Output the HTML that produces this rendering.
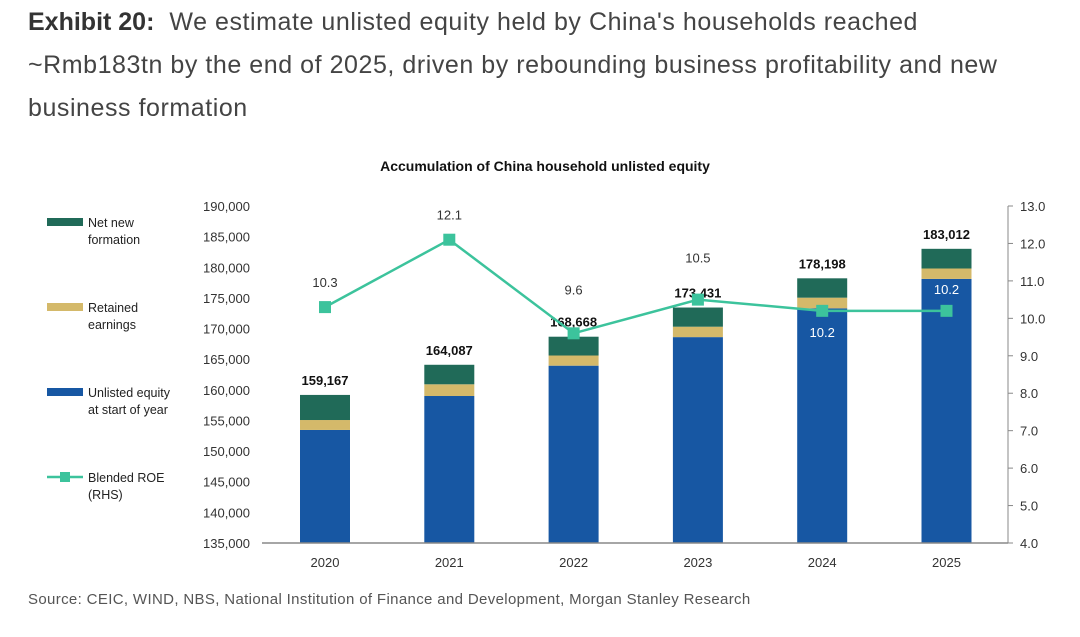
<!DOCTYPE html>
<html><head><meta charset="utf-8"><style>
body{margin:0;background:#fff;width:1080px;height:637px;overflow:hidden;font-family:"Liberation Sans",sans-serif}
#hdr{position:absolute;left:28px;top:1px;width:1050px;font-size:25px;line-height:43px;color:#444;letter-spacing:0.55px;white-space:nowrap}
#hdr b{color:#333;letter-spacing:0}
#src{position:absolute;left:28px;top:591px;font-size:15px;color:#555;letter-spacing:0.35px;white-space:nowrap}
</style></head><body>
<div id="hdr"><b>Exhibit 20:</b>&nbsp;&nbsp;We estimate unlisted equity held by China's households reached<br>~Rmb183tn by the end of 2025, driven by rebounding business profitability and new<br>business formation</div>
<svg id="chart" width="1080" height="637" style="position:absolute;left:0;top:0" font-family="Liberation Sans, sans-serif"></svg>
<div id="src">Source: CEIC, WIND, NBS, National Institution of Finance and Development, Morgan Stanley Research</div>
<script>
const years=["2020","2021","2022","2023","2024","2025"];
const startEquity=[153450,158990,163940,168600,173300,178100];
const retained=[1620,1910,1660,1700,1740,1700];
const totals=[159167,164087,168668,173431,178198,183012];
const roe=[10.3,12.1,9.6,10.5,10.2,10.2];
const leftTicks=[135000,140000,145000,150000,155000,160000,165000,170000,175000,180000,185000,190000];
const rightTicks=[4,5,6,7,8,9,10,11,12,13];
const NS="http://www.w3.org/2000/svg",svg=document.getElementById('chart');
const x0=262,x1=1008,yT=206,yB=543;
const yL=v=>yB-(v-135000)/55000*(yB-yT);
const yR=v=>yB-(v-4)/9*(yB-yT);
const xC=i=>325+i*124.3;
function mk(t,a,txt){const e=document.createElementNS(NS,t);for(const k in a)e.setAttribute(k,a[k]);if(txt!=null)e.textContent=txt;svg.appendChild(e);return e;}
let e=mk('text',{x:545,y:171,'text-anchor':'middle','font-size':14,'font-weight':'bold',fill:'#111'},'Accumulation of China household unlisted equity');


leftTicks.forEach(v=>{const t=mk('text',{x:250,y:yL(v)+5,'text-anchor':'end','font-size':13,fill:'#333'},v.toLocaleString('en-US'));

});
rightTicks.forEach(v=>{mk('line',{x1:x1,x2:x1+5,y1:yR(v),y2:yR(v),stroke:'#888'});
const t=mk('text',{x:1020,y:yR(v)+5,'font-size':13,fill:'#333'},v.toFixed(1));

});
mk('line',{x1:x1,x2:x1,y1:yT,y2:yB,stroke:'#888'});
years.forEach((y,i)=>{const cx=xC(i),bw=50,bx=cx-25;
let r=mk('rect',{x:bx,y:yL(startEquity[i]),width:bw,height:yB-yL(startEquity[i]),fill:'#1757a3'});


const rt=startEquity[i]+retained[i];
r=mk('rect',{x:bx,y:yL(rt),width:bw,height:yL(startEquity[i])-yL(rt),fill:'#d4b96a'});


r=mk('rect',{x:bx,y:yL(totals[i]),width:bw,height:yL(rt)-yL(totals[i]),fill:'#206a58'});


const t=mk('text',{x:cx,y:yL(totals[i])-10,'text-anchor':'middle','font-size':13,'font-weight':'bold',fill:'#111'},totals[i].toLocaleString('en-US'));


const xl=mk('text',{x:cx,y:yB+24,'text-anchor':'middle','font-size':13,fill:'#333'},y);

});
mk('line',{x1:x0,x2:x1,y1:yB,y2:yB,stroke:'#888','stroke-width':1.5});
const line=mk('polyline',{points:roe.map((v,i)=>xC(i)+','+yR(v)).join(' '),fill:'none',stroke:'#3cc39c','stroke-width':2.5});


roe.forEach((v,i)=>{const p=mk('rect',{x:xC(i)-6,y:yR(v)-6,width:12,height:12,fill:'#3cc39c'});


let ly=yR(v)-20,col='#333';
if(i==2)ly=yR(v)-39; if(i==3)ly=yR(v)-37;
if(i==4){ly=yR(v)+26;col='#fff';} if(i==5){ly=yR(v)-17;col='#fff';}
const t=mk('text',{x:xC(i),y:ly,'text-anchor':'middle','font-size':13,fill:col},v.toFixed(1));

});
const leg=[['Net new','formation','#206a58',222],['Retained','earnings','#d4b96a',307],['Unlisted equity','at start of year','#1757a3',392],['Blended ROE','(RHS)','#3cc39c',477]];
leg.forEach((l,k)=>{if(k<3){mk('rect',{x:47,y:l[3]-4,width:36,height:8,fill:l[2]});}
else{mk('line',{x1:47,x2:83,y1:l[3],y2:l[3],stroke:l[2],'stroke-width':2.5});mk('rect',{x:60,y:l[3]-5,width:10,height:10,fill:l[2]});}
const t=mk('text',{x:88,y:l[3]+5,'font-size':12.5,fill:'#222'},l[0]);


mk('text',{x:88,y:l[3]+22,'font-size':12.5,fill:'#222'},l[1]);});
</script>
</body></html>
